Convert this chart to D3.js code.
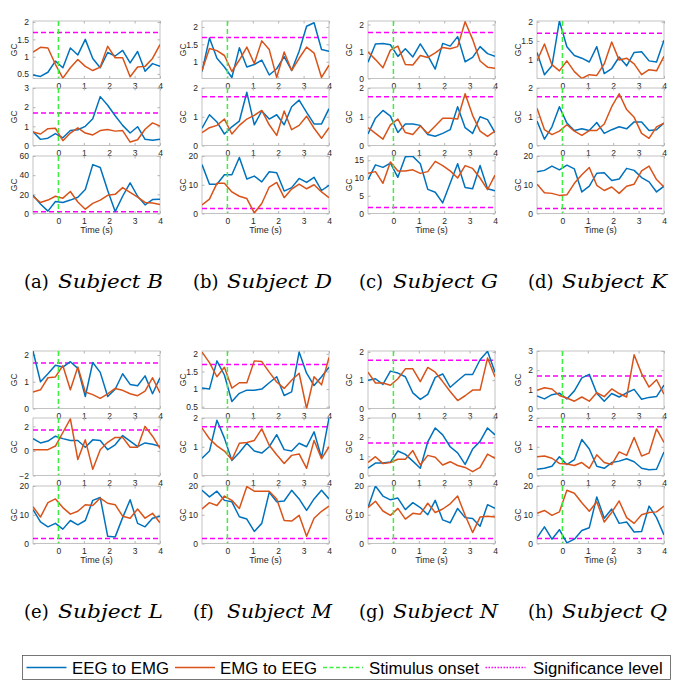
<!DOCTYPE html>
<html><head><meta charset="utf-8">
<script src="https://cdn.jsdelivr.net/npm/d3@7"></script>
<style>body{margin:0;background:#fff}svg{display:block}</style>
</head><body>
<svg id="chart" width="683" height="685"></svg>
<script>
// ---- time axis (18 windows between -1 s and 4 s) ----
const timePoints = [-1, -0.706, -0.412, -0.118, 0.176, 0.471, 0.765, 1.059, 1.353, 1.647, 1.941, 2.235, 2.529, 2.824, 3.118, 3.412, 3.706, 4];
const xTickValues = [0, 1, 2, 3, 4];
const significanceLevel = 1.7;
const stimulusOnset = 0;

const subjects = ["B", "D", "G", "K", "L", "M", "N", "Q"];
const captionTags = ["(a)", "(b)", "(c)", "(d)", "(e)", "(f)", "(g)", "(h)"];
const seriesNames = ["EEG to EMG", "EMG to EEG", "Stimulus onset", "Significance level"];

// ---- GC values: three recordings per subject, EEG->EMG and EMG->EEG ----
const eegToEmgB = [
  [0.47,0.43,0.55,0.87,0.68,1.25,1.05,1.5,0.95,0.68,1.12,1.02,1.18,0.82,1.15,0.58,0.8,0.72],
  [0.72,0.32,0.38,0.62,0.4,0.78,0.82,1.0,1.4,2.55,2.1,1.55,1.05,0.65,0.98,0.32,0.27,0.32],
  [19,10,2.5,12.5,11.5,14,17,25,51,48,24,2,18,32,18,9,14.5,15]];
const emgToEegB = [
  [1.13,1.27,1.25,0.78,0.38,0.68,0.92,0.72,0.6,0.7,1.3,0.97,0.97,0.42,0.7,0.72,0.95,1.35],
  [0.7,0.6,0.88,0.9,0.25,0.65,0.92,0.65,0.55,0.78,0.83,0.75,0.78,0.18,0.3,0.85,1.18,1.02],
  [18,11.5,14,18,16,23,12,4.5,10.5,14,19,20,27,22,17,11.5,11,9.5]];
const eegToEmgD = [
  [0.72,1.68,1.1,0.85,0.55,1.4,0.85,0.92,1.05,0.62,0.8,1.15,0.75,1.3,2.02,2.12,1.35,1.3],
  [0.6,1.07,0.82,0.4,0.65,0.85,1.85,0.72,1.2,0.92,1.07,0.72,1.35,1.58,1.15,0.75,0.75,1.28],
  [17,10.2,10.2,13.5,13.5,19.5,12,13,11,14.5,14.2,7.8,9,12.2,10.8,12.6,8,9.8]];
const emgToEegD = [
  [0.75,1.38,1.32,1.18,0.72,1.05,1.42,0.95,1.6,1.35,0.55,1.28,0.75,1.1,1.42,1.25,0.55,0.9],
  [0.45,0.62,0.7,0.92,0.4,0.7,0.92,1.05,1.22,0.72,0.35,1.2,0.55,0.7,1.02,0.6,0.25,0.62],
  [3,5,10.5,10.5,7.5,6,5.2,0.2,3.5,9.2,10.8,5.5,8.5,10.2,8.6,10,7.5,5.5]];
const eegToEmgG = [
  [0.6,1.28,1.3,1.25,0.82,1.1,0.8,1.28,0.85,0.35,1.3,1.2,1.55,0.62,0.78,1.18,0.92,0.82],
  [0.4,0.95,1.22,1.02,0.45,0.75,0.75,0.7,0.38,0.32,0.42,0.55,1.35,0.62,0.42,1.0,0.9,0.45],
  [9.5,13.7,13.0,14.2,10.2,16.0,16.1,14.0,6.8,6.0,3.0,8.5,14.0,7.3,7.0,13.5,7.0,6.4]];
const emgToEegG = [
  [0.98,0.7,0.4,1.05,1.2,0.52,0.5,0.85,0.78,0.95,1.15,1.1,1.18,2.1,1.45,0.65,0.42,0.38],
  [0.62,0.42,0.22,0.72,0.92,0.45,0.38,0.68,0.42,0.68,0.95,0.95,0.92,1.8,1.05,0.5,0.32,0.5],
  [11.3,11.8,8.5,14.5,12.0,12.0,12.3,11.3,11.8,14.7,13.5,12.0,10.0,13.5,12.7,10.0,6.7,10.8]];
const eegToEmgK = [
  [1.2,0.62,0.85,2.02,1.35,1.12,1.05,0.95,1.35,0.65,0.78,1.08,0.85,1.2,1.22,0.98,0.95,1.52],
  [0.85,0.22,0.65,1.35,0.78,0.52,0.58,0.52,0.8,0.42,0.55,0.65,0.58,0.82,0.82,0.52,0.55,0.78],
  [14.5,15,16.5,15.2,16.8,15.5,7.5,9.5,14,14.2,11.5,12,15.7,15,12.5,11,7.5,9.5]];
const emgToEegK = [
  [0.98,1.42,0.88,0.72,0.98,0.7,0.52,0.62,0.6,0.9,1.47,1.0,1.05,0.9,0.62,0.75,0.72,1.1],
  [1.3,0.55,0.38,0.5,0.72,0.5,0.35,0.52,0.52,0.75,1.35,1.8,1.25,0.98,0.42,0.25,0.65,0.78],
  [10.2,7.2,7.0,6.3,6.5,10.5,13.5,16,9.8,8.0,9.2,7.0,9.5,10.2,14.8,16.5,11.8,9.2]];
const eegToEmgL = [
  [2.15,1.0,1.3,1.62,1.55,1.75,1.5,0.45,1.72,1.35,0.45,0.72,1.3,0.9,0.85,1.22,0.55,1.15],
  [1.0,0.65,0.8,1.2,1.0,0.85,0.85,0.3,0.9,0.85,0.1,0.5,1.25,0.8,0.35,0.65,0.55,0.38],
  [11.8,7.5,5.8,7.0,5.0,8.0,6.5,8.0,15.0,16.0,2.5,2.3,9.0,15.2,7.0,5.8,8.8,9.5]];
const emgToEegL = [
  [0.62,0.7,1.15,1.18,1.6,0.7,1.55,0.62,0.52,0.38,0.55,0.75,0.68,0.55,0.48,0.65,1.15,0.58],
  [0.1,0.1,0.1,0.4,1.5,2.6,-0.7,0.9,-1.5,0.1,0.7,1.1,1.1,0.3,0.3,2.0,1.2,0.2],
  [12.8,9.2,14.2,15.5,12.5,10.2,11.2,13.5,13.2,15.8,14.0,13.5,9.5,8.8,12.0,8.8,10.5,7.2]];
const eegToEmgM = [
  [1.03,1.0,1.8,1.4,0.65,0.88,0.97,0.97,1.0,1.18,1.35,0.82,0.92,2.05,1.45,1.1,1.35,1.62],
  [0.6,0.85,1.92,1.3,0.52,0.8,1.12,0.85,0.78,1.0,1.42,0.9,0.85,1.12,1.0,1.52,0.62,2.0],
  [18.5,16.2,18.2,15.0,14.5,9.3,8.5,4.2,7.0,17.8,14.5,14.8,18.5,15.5,11.5,15.5,18.5,15.5]];
const emgToEegM = [
  [2.05,1.75,1.35,1.62,1.03,1.18,1.18,1.8,1.78,1.48,1.2,1.02,1.25,1.45,0.45,1.35,1.12,1.9],
  [1.65,1.28,1.03,0.85,0.55,1.12,1.15,1.22,1.62,1.05,0.72,0.42,0.7,0.75,0.25,1.22,0.58,1.0],
  [12.0,14.2,13.2,16.5,15.0,12.2,19.8,18.2,18.2,18.2,15.5,8.0,7.8,9.8,2.5,8.8,11.2,13.0]];
const eegToEmgN = [
  [1.0,1.05,0.85,1.32,1.25,1.12,0.55,0.32,0.5,1.1,1.22,0.75,0.98,1.2,1.2,1.72,2.02,1.28],
  [0.38,0.65,0.65,0.7,1.28,1.1,0.75,0.38,1.75,2.48,2.12,1.5,1.18,0.58,1.38,1.78,2.48,2.12],
  [12.5,20.0,16.5,15.2,15.8,11.8,14.2,12.5,10.0,15.0,8.2,7.2,12.2,9.0,8.7,6.0,13.5,12.2]];
const emgToEegN = [
  [1.28,0.9,0.9,0.82,1.05,1.4,1.4,0.95,1.45,1.28,0.95,0.6,0.28,0.45,0.65,0.65,1.78,1.12],
  [0.68,0.98,0.62,0.68,0.85,0.85,1.3,0.55,1.05,0.95,0.55,0.72,0.52,0.42,0.2,0.42,1.12,0.9],
  [12.5,14.7,11.3,9.8,12.2,8.5,10.5,10.2,14.0,10.8,12.0,13.8,16.5,9.8,3.8,9.2,9.5,9.2]];
const eegToEmgQ = [
  [0.65,0.5,0.72,0.8,0.5,0.92,1.6,1.78,0.8,0.38,0.78,0.6,0.82,1.0,0.48,0.58,0.62,1.22],
  [0.22,0.25,0.32,0.65,0.38,0.55,1.25,0.92,0.32,0.25,0.45,0.5,0.58,0.48,0.25,0.2,0.22,0.82],
  [2.0,5.8,1.5,4.8,0.2,1.5,4.5,5.5,16.2,8.8,12.0,7.0,7.5,4.0,4.2,13.0,9.0,3.0]];
const emgToEegQ = [
  [0.95,1.08,1.02,0.68,0.55,0.38,0.6,0.38,0.82,0.62,1.02,0.78,0.6,2.8,1.82,1.12,1.5,0.75],
  [0.65,0.68,0.6,0.42,0.4,0.35,0.45,0.25,0.72,0.45,0.38,0.82,0.7,1.32,0.68,0.78,1.62,1.15],
  [10.5,11.5,9.8,11.0,18.5,17.5,14.2,11.2,14.5,7.5,10.8,14.8,9.0,7.0,10.0,10.8,11.0,13.0]];

// ---- y-axis limits and tick labels of each recording ----
const yDomainB = [[0.37,2.03],[0,3],[0,60]];     const yTicksB = [[0.5,1,1.5,2],[0,1,2,3],[0,20,40,60]];
const yDomainD = [[0.52,2.17],[0,2],[0,20]];     const yTicksD = [[1,1.5,2],[0,1,2],[0,10,20]];
const yDomainG = [[0,2.13],[0,2],[0,16.2]];      const yTicksG = [[0,1,2],[0,1,2],[0,5,10,15]];
const yDomainK = [[0.52,2.02],[0,2],[0,20]];     const yTicksK = [[1,1.5,2],[0,1,2],[0,10,20]];
const yDomainL = [[0,2.15],[-2,2.68],[0,20]];    const yTicksL = [[0,1,2],[-2,0,2],[0,10,20]];
const yDomainM = [[0.45,2.08],[0,2],[0,20]];     const yTicksM = [[0.5,1,1.5,2],[0,1,2],[0,10,20]];
const yDomainN = [[0,2.03],[0,3],[0,20]];        const yTicksN = [[0,1,2],[0,1,2,3],[0,10,20]];
const yDomainQ = [[0,3],[0,2],[0,20]];           const yTicksQ = [[0,1,2,3],[0,1,2],[0,10,20]];

const eegSeries = [eegToEmgB, eegToEmgD, eegToEmgG, eegToEmgK, eegToEmgL, eegToEmgM, eegToEmgN, eegToEmgQ];
const emgSeries = [emgToEegB, emgToEegD, emgToEegG, emgToEegK, emgToEegL, emgToEegM, emgToEegN, emgToEegQ];
const yDomains = [yDomainB, yDomainD, yDomainG, yDomainK, yDomainL, yDomainM, yDomainN, yDomainQ];
const yTicks = [yTicksB, yTicksD, yTicksG, yTicksK, yTicksL, yTicksM, yTicksN, yTicksQ];

// ---- layout ----
const colors = {eeg: "#0072BD", emg: "#D95319", onset: "#3CF03C", sig: "#FF00FF", axis: "#b4b4b4", text: "#262626"};
const colLeft = [33, 202, 368, 537];
const plotW = 127;
const groupTop = [0, 330];
const rowTop = [21, 88, 156];
const plotH = 57.5;
const tickFont = "Liberation Sans, Arial, Helvetica, sans-serif";
const fmt = d3.format("~g");

const svg = d3.select("#chart");
const x = d3.scaleLinear().domain([-1, 4]);
const defs = svg.append("defs");

subjects.forEach((s, i) => {
  const col = i % 4, grp = Math.floor(i / 4);
  const x0 = colLeft[col];
  x.range([x0, x0 + plotW]);
  for (let r = 0; r < 3; r++) {
    const y0 = groupTop[grp] + rowTop[r];
    const y = d3.scaleLinear().domain(yDomains[i][r]).range([y0 + plotH, y0]);
    const g = svg.append("g");
    const clipId = `clip-${s}-${r}`;
    defs.append("clipPath").attr("id", clipId).append("rect")
      .attr("x", x0).attr("y", y0).attr("width", plotW).attr("height", plotH);

    g.append("rect").attr("x", x0).attr("y", y0).attr("width", plotW).attr("height", plotH)
      .attr("fill", "none").attr("stroke", colors.axis).attr("stroke-width", 0.8);

    const ya = g.append("g").attr("transform", `translate(${x0},0)`)
      .call(d3.axisLeft(y).tickValues(yTicks[i][r]).tickFormat(fmt).tickSizeInner(-2.5).tickSizeOuter(0).tickPadding(4));
    ya.select(".domain").remove();
    ya.selectAll(".tick line").attr("stroke", colors.axis);
    ya.selectAll(".tick text").attr("fill", colors.text).style("font", `8.5px ${tickFont}`);
    const yr = g.append("g").attr("transform", `translate(${x0 + plotW},0)`)
      .call(d3.axisRight(y).tickValues(yTicks[i][r]).tickSizeInner(-2.5).tickSizeOuter(0).tickFormat(""));
    yr.select(".domain").remove();
    yr.selectAll(".tick line").attr("stroke", colors.axis);

    const xa = g.append("g").attr("transform", `translate(0,${y0 + plotH})`)
      .call(d3.axisBottom(x).tickValues(xTickValues).tickFormat(fmt).tickSizeInner(-2.5).tickSizeOuter(0).tickPadding(4));
    xa.select(".domain").remove();
    xa.selectAll(".tick line").attr("stroke", colors.axis);
    xa.selectAll(".tick text").attr("fill", colors.text).style("font", `8.5px ${tickFont}`);
    const xt = g.append("g").attr("transform", `translate(0,${y0})`)
      .call(d3.axisTop(x).tickValues(xTickValues).tickSizeInner(-2.5).tickSizeOuter(0).tickFormat(""));
    xt.select(".domain").remove();
    xt.selectAll(".tick line").attr("stroke", colors.axis);

    g.append("text").attr("transform", `translate(${x0 - 16},${y0 + plotH / 2}) rotate(-90)`)
      .attr("text-anchor", "middle").attr("fill", colors.text)
      .style("font", `8.5px ${tickFont}`).text("GC");

    const plot = g.append("g").attr("clip-path", `url(#${clipId})`);
    const line = d3.line().x((d, k) => x(timePoints[k])).y(d => y(d));
    plot.append("line").attr("x1", x(-1)).attr("x2", x(4))
      .attr("y1", y(significanceLevel)).attr("y2", y(significanceLevel))
      .attr("stroke", colors.sig).attr("stroke-width", 1.5).attr("stroke-dasharray", "5,3");
    plot.append("path").datum(eegSeries[i][r]).attr("d", line)
      .attr("fill", "none").attr("stroke", colors.eeg).attr("stroke-width", 1.5).attr("stroke-linejoin", "round");
    plot.append("path").datum(emgSeries[i][r]).attr("d", line)
      .attr("fill", "none").attr("stroke", colors.emg).attr("stroke-width", 1.5).attr("stroke-linejoin", "round");
    plot.append("line").attr("x1", x(stimulusOnset)).attr("x2", x(stimulusOnset))
      .attr("y1", y0).attr("y2", y0 + plotH)
      .attr("stroke", colors.onset).attr("stroke-width", 1.5).attr("stroke-dasharray", "5,3");
  }
  svg.append("text").attr("x", x0 + plotW / 2).attr("y", groupTop[grp] + 233)
    .attr("text-anchor", "middle").attr("fill", colors.text)
    .style("font", `9px ${tickFont}`).text("Time (s)");
  // caption: "(a)" upright + italic "Subject X"
  const capY = groupTop[grp] + 288;
  svg.append("text").attr("x", x0 - 9).attr("y", capY)
    .style("font-family", "DejaVu Serif, serif").style("font-size", "18px").text(captionTags[i]);
  svg.append("text").attr("x", x0 + 25).attr("y", capY)
    .attr("textLength", 105).attr("lengthAdjust", "spacingAndGlyphs")
    .style("font-family", "DejaVu Serif, serif").style("font-style", "italic").style("font-size", "19px")
    .text("Subject " + s);
});

// ---- legend ----
const lg = svg.append("g");
lg.append("rect").attr("x", 22.5).attr("y", 655.5).attr("width", 648).attr("height", 24)
  .attr("fill", "#fff").attr("stroke", "#555").attr("stroke-width", 0.8);
const legendItems = [
  {name: seriesNames[0], color: colors.eeg, dash: null, x: 26.5, tx: 72},
  {name: seriesNames[1], color: colors.emg, dash: null, x: 175, tx: 220},
  {name: seriesNames[2], color: colors.onset, dash: "4,2.5", x: 323, tx: 369},
  {name: seriesNames[3], color: colors.sig, dash: "1.5,1.5", x: 485.5, tx: 533}];
legendItems.forEach(it => {
  lg.append("line").attr("x1", it.x).attr("x2", it.x + 40).attr("y1", 667.5).attr("y2", 667.5)
    .attr("stroke", it.color).attr("stroke-width", 1.5).attr("stroke-dasharray", it.dash);
  lg.append("text").attr("x", it.tx).attr("y", 673.5).attr("fill", "#000")
    .style("font", `16.8px ${tickFont}`).text(it.name);
});
</script>
</body></html>
